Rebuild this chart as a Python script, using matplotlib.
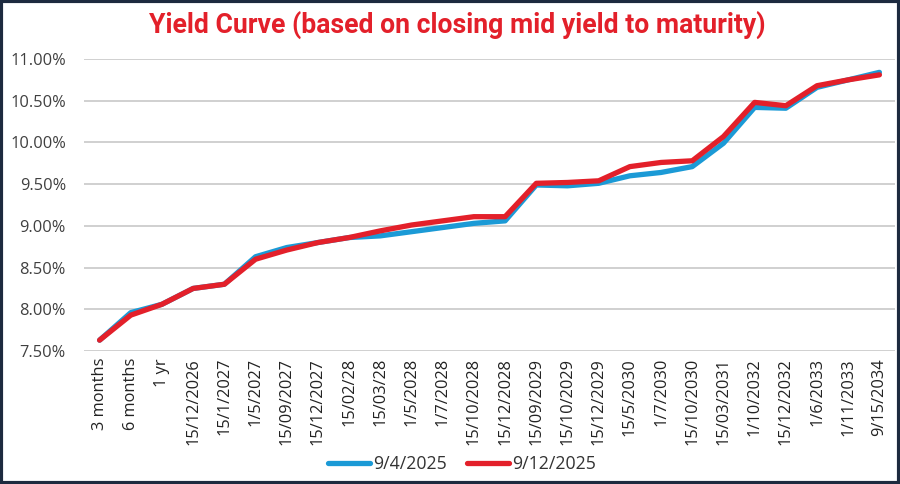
import matplotlib
matplotlib.use("Agg")
import matplotlib.pyplot as plt
from matplotlib.patches import Rectangle
from matplotlib.ticker import FuncFormatter, MultipleLocator

categories = ["3 months", "6 months", "1 yr", "15/12/2026", "15/1/2027", "1/5/2027",
              "15/09/2027", "15/12/2027", "15/02/28", "15/03/28", "1/5/2028", "1/7/2028",
              "15/10/2028", "15/12/2028", "15/09/2029", "15/10/2029", "15/12/2029",
              "15/5/2030", "1/7/2030", "15/10/2030", "15/03/2031", "1/10/2032",
              "15/12/2032", "1/6/2033", "1/11/2033", "9/15/2034"]

yield_sep4 = [7.63, 7.96, 8.06, 8.25, 8.30, 8.63, 8.74, 8.80, 8.86, 8.88, 8.93, 8.98,
              9.03, 9.06, 9.49, 9.48, 9.51, 9.60, 9.64, 9.71, 9.99, 10.42, 10.41,
              10.66, 10.75, 10.84]
yield_sep12 = [7.63, 7.93, 8.06, 8.25, 8.30, 8.60, 8.71, 8.80, 8.86, 8.94, 9.01, 9.06,
               9.11, 9.11, 9.51, 9.52, 9.54, 9.71, 9.76, 9.78, 10.07, 10.48, 10.44,
               10.68, 10.75, 10.81]
series_names = ["9/4/2025", "9/12/2025"]

BLUE = "#1b9ad6"
RED = "#e3202a"

fig = plt.figure(figsize=(9, 4.84), dpi=100)
ax = fig.add_axes([84 / 900, 1 - 351 / 484, (895 - 84) / 900, (351 - 59) / 484])

x = list(range(len(categories)))
ax.plot(x, yield_sep4, color=BLUE, lw=3.8, label=series_names[0], solid_capstyle="round", zorder=3)
ax.plot(x, yield_sep12, color=RED, lw=3.8, label=series_names[1], solid_capstyle="round", zorder=4)

ax.set_xlim(-0.5, len(categories) - 0.5)
ax.set_ylim(7.5, 11.0)
ax.yaxis.set_major_locator(MultipleLocator(0.5))
ax.yaxis.set_major_formatter(FuncFormatter(lambda v, p: f"{v:.2f}%"))
ax.grid(axis="y", color="#d0d0d0", lw=1.4, zorder=0)
ax.set_axisbelow(True)
for s in ax.spines.values():
    s.set_visible(False)
ax.tick_params(length=0)
ax.set_xticks(x)
ax.set_xticklabels(categories, rotation=90, fontsize=11.8, color="#222222",
                   family="Open Sans")
for lbl in ax.get_yticklabels():
    lbl.set_fontsize(11.8)
    lbl.set_color("#404040")
    lbl.set_family("Open Sans")
ax.tick_params(axis="x", pad=5)
ax.tick_params(axis="y", pad=13)

leg = fig.legend(loc="center", bbox_to_anchor=(0.5 + 12 / 900, 1 - 464 / 484), ncol=2,
                 frameon=False, prop={"family": "Open Sans", "size": 12.8},
                 handlelength=2.4, handletextpad=0.17, columnspacing=1.1)
for t in leg.get_texts():
    t.set_color("#333333")

fig.text(457 / 900, 1 - 25 / 484, "Yield Curve (based on closing mid yield to maturity)",
         ha="center", va="center", color=RED, fontsize=19.2, fontweight="bold",
         family="Roboto")

fig.patches.append(Rectangle((0.0015, 0.002), 0.997, 0.996, transform=fig.transFigure,
                             fill=False, edgecolor="#1d2a3f", lw=3.0))

fig.savefig("out.png", dpi=100, facecolor="white")
